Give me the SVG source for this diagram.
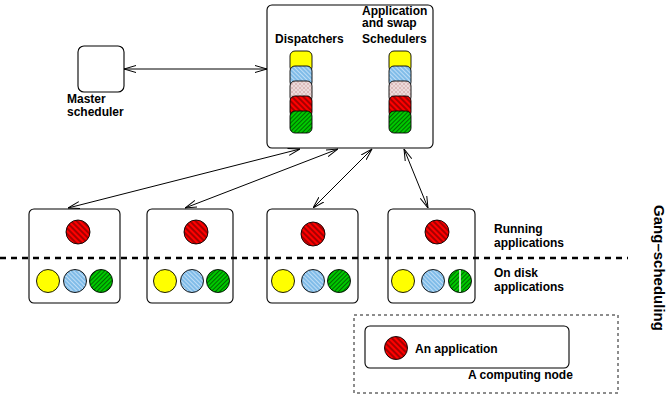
<svg xmlns="http://www.w3.org/2000/svg" width="668" height="401" viewBox="0 0 668 401">
<defs>
<style>
text{font-family:"Liberation Sans",Arial,sans-serif;font-weight:bold;font-size:12px;fill:#000}
text.big{font-size:15px}
.box{fill:#fff;stroke:#000;stroke-width:1.1}
.conn{fill:none;stroke:#000;stroke-width:1}
.c{stroke:#000;stroke-width:0.9}
.seg{stroke:#000;stroke-width:0.9}
</style>
<pattern id="pRed" patternUnits="userSpaceOnUse" width="4" height="4" patternTransform="rotate(-45)">
<rect width="4" height="4" fill="#ff0000"/><line x1="2" y1="0" x2="2" y2="4" stroke="#000" stroke-width="0.7"/>
</pattern>
<pattern id="pGreen" patternUnits="userSpaceOnUse" width="3" height="3" patternTransform="rotate(45)">
<rect width="3" height="3" fill="#00c800"/><line x1="1.5" y1="0" x2="1.5" y2="3" stroke="#004000" stroke-width="0.7"/>
</pattern>
<pattern id="pBlue" patternUnits="userSpaceOnUse" width="3" height="3" patternTransform="rotate(-45)">
<rect width="3" height="3" fill="#80bce8"/><line x1="1.5" y1="0" x2="1.5" y2="3" stroke="#e8f4ff" stroke-width="0.6"/>
</pattern>
<pattern id="pPink" patternUnits="userSpaceOnUse" width="4" height="4">
<rect width="4" height="4" fill="#d8b4b4"/><circle cx="2" cy="2" r="1.5" fill="none" stroke="#fff" stroke-width="0.6"/>
</pattern>
<marker id="ah" viewBox="0 0 12 8" refX="12" refY="4" markerWidth="12" markerHeight="8" markerUnits="userSpaceOnUse" orient="auto-start-reverse">
<path d="M0,0.5 L12,4 L0,7.5" fill="none" stroke="#000" stroke-width="1"/>
</marker>
</defs>

<g id="master-scheduler">
<rect class="box" x="78" y="46" width="46" height="46" rx="6"/>
<text x="67" y="103">Master</text>
<text x="67" y="116">scheduler</text>
</g>

<g id="central">
<rect class="box" x="267" y="5" width="166" height="143" rx="5"/>
<text x="275" y="43">Dispatchers</text>
<text x="362" y="15">Application</text>
<text x="362" y="27">and swap</text>
<text x="362" y="43">Schedulers</text>
<g id="dispatchers-stack">
<rect class="seg" x="290" y="51" width="22" height="21" rx="5" fill="#ffff00"/>
<rect class="seg" x="290" y="66" width="22" height="21" rx="5" fill="url(#pBlue)"/>
<rect class="seg" x="290" y="81" width="22" height="21" rx="5" fill="url(#pPink)"/>
<rect class="seg" x="290" y="96" width="22" height="21" rx="5" fill="url(#pRed)"/>
<rect class="seg" x="290" y="111" width="22" height="22" rx="5" fill="url(#pGreen)"/>
</g>
<g id="schedulers-stack">
<rect class="seg" x="389" y="51" width="22" height="21" rx="5" fill="#ffff00"/>
<rect class="seg" x="389" y="66" width="22" height="21" rx="5" fill="url(#pBlue)"/>
<rect class="seg" x="389" y="81" width="22" height="21" rx="5" fill="url(#pPink)"/>
<rect class="seg" x="389" y="96" width="22" height="21" rx="5" fill="url(#pRed)"/>
<rect class="seg" x="389" y="111" width="22" height="22" rx="5" fill="url(#pGreen)"/>
</g>
</g>

<g id="node1">
<rect class="box" x="29" y="209" width="91" height="94" rx="5"/>
<circle class="c" cx="78" cy="232" r="12" fill="url(#pRed)"/>
<circle class="c" cx="48" cy="281" r="11.5" fill="#ffff00"/>
<circle class="c" cx="75" cy="281" r="11.5" fill="url(#pBlue)"/>
<circle class="c" cx="101" cy="281" r="11.5" fill="url(#pGreen)"/>
</g>
<g id="node2">
<rect class="box" x="147" y="209" width="86" height="94" rx="5"/>
<circle class="c" cx="196" cy="232" r="12" fill="url(#pRed)"/>
<circle class="c" cx="165" cy="281" r="11.5" fill="#ffff00"/>
<circle class="c" cx="192" cy="281" r="11.5" fill="url(#pBlue)"/>
<circle class="c" cx="218" cy="281" r="11.5" fill="url(#pGreen)"/>
</g>
<g id="node3">
<rect class="box" x="267" y="209" width="91" height="94" rx="5"/>
<circle class="c" cx="313" cy="234" r="12" fill="url(#pRed)"/>
<circle class="c" cx="283" cy="281" r="11.5" fill="#ffff00"/>
<circle class="c" cx="313" cy="281" r="11.5" fill="url(#pBlue)"/>
<circle class="c" cx="339" cy="281" r="11.5" fill="url(#pGreen)"/>
</g>
<g id="node4">
<rect class="box" x="388" y="209" width="87" height="94" rx="5"/>
<circle class="c" cx="437" cy="232" r="12" fill="url(#pRed)"/>
<circle class="c" cx="403" cy="281" r="11.5" fill="#ffff00"/>
<circle class="c" cx="433" cy="281" r="11.5" fill="url(#pBlue)"/>
<circle class="c" cx="460" cy="281" r="11.5" fill="url(#pGreen)"/>
<line x1="460" y1="270" x2="460" y2="292" stroke="#fff" stroke-width="1.5"/>
</g>

<g id="divider">
<line x1="0" y1="258" x2="628" y2="258" stroke="#000" stroke-width="2.5" stroke-dasharray="6,5"/>
</g>

<g id="labels">
<text x="494" y="233">Running</text>
<text x="494" y="247">applications</text>
<text x="494" y="277">On disk</text>
<text x="494" y="291">applications</text>
<text class="big" transform="translate(654,268) rotate(90)" text-anchor="middle">Gang–scheduling</text>
</g>

<g id="legend">
<rect x="354" y="315" width="264" height="78" fill="none" stroke="#000" stroke-width="0.9" stroke-dasharray="3,3"/>
<rect class="box" x="365" y="326" width="204" height="42" rx="5"/>
<circle class="c" cx="396" cy="348" r="11.5" fill="url(#pRed)"/>
<text x="415" y="353">An application</text>
<text x="468" y="379">A computing node</text>
</g>

<g id="connectors">
<line class="conn" x1="124" y1="69" x2="267" y2="69" marker-start="url(#ah)" marker-end="url(#ah)"/>
<line class="conn" x1="300" y1="149" x2="68" y2="208" marker-start="url(#ah)" marker-end="url(#ah)"/>
<line class="conn" x1="338" y1="149" x2="185" y2="208" marker-start="url(#ah)" marker-end="url(#ah)"/>
<line class="conn" x1="372" y1="149" x2="313" y2="208" marker-start="url(#ah)" marker-end="url(#ah)"/>
<line class="conn" x1="404" y1="149" x2="428" y2="208" marker-start="url(#ah)" marker-end="url(#ah)"/>
</g>
</svg>
